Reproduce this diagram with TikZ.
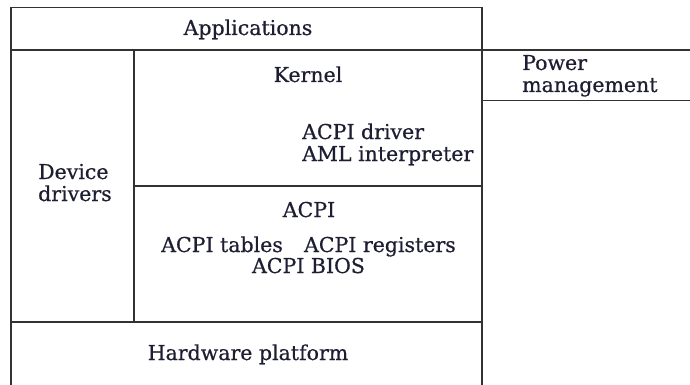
\documentclass[tikz,border=0pt]{standalone}
\usepackage{fontspec}
\setmainfont[FakeBold=0.6]{DejaVu Serif}
\definecolor{ink}{RGB}{30,30,50}
\definecolor{rule}{RGB}{50,50,50}
\begin{document}
\begin{tikzpicture}[x=1pt,y=-1pt,
  rl/.style={draw=rule,line width=1.3pt},
  lbl/.style={font=\fontsize{20.5}{22}\selectfont,inner sep=0pt,text=ink}]
\useasboundingbox (0,0) rectangle (690,385);
% frame
\draw[rl] (11,385) -- (11,7.5) -- (482,7.5) -- (482,385);
\draw[rl] (11,50) -- (690,50);
\draw[rl] (482,100.5) -- (690,100.5);
\draw[rl] (134,50) -- (134,322);
\draw[rl] (134,186) -- (482,186);
\draw[rl] (11,322) -- (482,322);
% texts (base of a two-line node is the baseline of its last line)
\node[lbl,anchor=base] (app) at (248,35) {Applications};
\node[lbl,anchor=base] (kern) at (308,82) {Kernel};
\node[lbl,anchor=base west,align=left] (drv) at (302,161) {ACPI driver\\AML interpreter};
\node[lbl,anchor=base west,align=left] (dev) at (38,201) {Device\\drivers};
\node[lbl,anchor=base west,align=left] (pm) at (522,92) {Power\\management};
\node[lbl,anchor=base] (acpi) at (309,217) {ACPI};
\node[lbl,anchor=base west] (tab) at (161,252) {ACPI tables};
\node[lbl,anchor=base east] (reg) at (456,252) {ACPI registers};
\node[lbl,anchor=base] (bios) at (308.5,273) {ACPI BIOS};
\node[lbl,anchor=base] (hw) at (248,360) {Hardware platform};
\end{tikzpicture}
\end{document}
